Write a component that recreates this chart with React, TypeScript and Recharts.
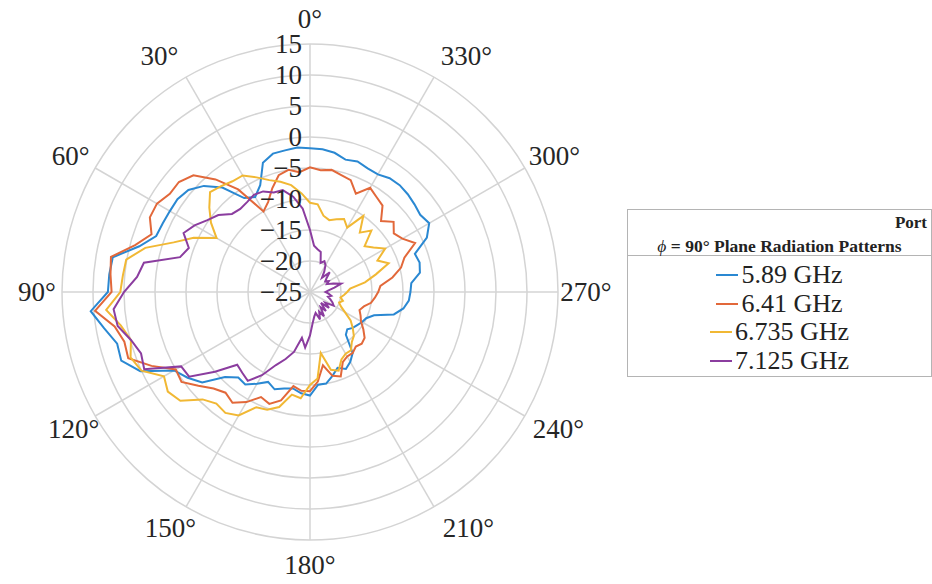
import React from "react";
import {
  RadarChart,
  Radar,
  PolarGrid,
  PolarAngleAxis,
  PolarRadiusAxis,
  Legend,
} from "recharts";

// angle (deg, counter-clockwise from top)
const DEG = [
  0, 5, 10, 15, 20, 25, 30, 35, 40, 45, 50, 55, 60, 65, 70, 75, 80, 85,
  90, 95, 100, 105, 110, 115, 120, 125, 130, 135, 140, 145, 150, 155, 160, 165, 170, 175,
  180, 185, 190, 195, 200, 205, 210, 215, 220, 225, 230, 235, 240, 245, 250, 255, 260, 265,
  270, 275, 280, 285, 290, 295, 300, 305, 310, 315, 320, 325, 330, 335, 340, 345, 350, 355,
];

const GHZ_589 = [
  -1.6, -1.8, -1.9, -2.8, -6.0, -7.3, -6.5, -3.0, -0.8, 0.6, 1.1, 1.1, 1.2, 1.4, 3.5, 7.3, 7.5, 7.6,
  10.5, 8.7, 7.2, 7.4, 5.2, 0.3, -0.9, -2.3, -5.6, -7.0, -6.8, -7.9, -9.0, -8.3, -8.9, -9.2, -8.6, -8.3,
  -10.0, -10.0, -11.0, -12.0, -11.3, -12.0, -13.0, -16.0, -16.5, -16.0, -15.7, -15.3, -15.0, -14.0, -11.0, -9.7, -9.0, -8.8,
  -8.6, -7.0, -6.7, -7.0, -4.2, -2.8, -3.3, -3.0, -2.7, -2.5, -2.6, -3.1, -3.0, -2.6, -2.9, -2.2, -1.9, -1.8,
];

const GHZ_641 = [
  -5.6, -5.0, -5.5, -7.2, -9.0, -10.0, -4.8, -1.3, 1.6, 2.6, 2.6, 3.5, 3.5, 2.2, 4.2, 7.6, 7.3, 7.0,
  9.8, 7.0, 6.0, 6.2, 3.2, 0.0, 0.3, -1.5, -3.0, -3.8, -3.2, -4.5, -6.3, -5.8, -6.9, -9.6, -9.0, -9.0,
  -10.5, -13.0, -11.0, -10.5, -12.5, -13.0, -13.0, -13.5, -13.2, -13.5, -14.5, -15.5, -16.0, -16.5, -16.0, -15.0, -14.5, -14.0,
  -13.6, -11.5, -9.8, -8.8, -6.3, -7.8, -8.5, -7.4, -8.8, -6.8, -6.3, -5.6, -7.5, -5.8, -5.5, -5.0, -5.3, -4.9,
];

const GHZ_6735 = [
  -9.0, -7.5, -6.6, -5.8, -4.6, -3.3, -3.2, -2.7, -2.2, -3.8, -5.5, -7.6, -4.3, -1.6, 2.5, 5.1, 5.3, 5.6,
  8.0, 6.0, 4.9, 5.8, 5.0, 2.2, 3.0, 2.3, -0.5, -1.5, -1.2, -2.0, -4.5, -4.8, -5.8, -8.2, -7.8, -10.0,
  -11.0, -15.0, -12.0, -11.5, -13.0, -13.5, -13.5, -14.5, -15.0, -16.0, -17.0, -18.5, -19.5, -20.0, -19.5, -20.0, -19.5, -19.0,
  -18.5, -16.0, -14.0, -11.5, -13.0, -11.0, -12.5, -13.5, -11.0, -12.5, -10.0, -13.0, -12.0, -12.5, -13.0, -12.5, -10.8, -10.6,
];

const GHZ_7125 = [
  -11.5, -9.4, -8.0, -7.9, -7.1, -6.9, -7.3, -7.5, -7.2, -5.7, -4.8, -3.5, -2.5, -4.2, -3.3, 2.2, 3.0, 5.0,
  6.8, 6.5, 4.9, 4.0, 4.5, -1.0, -1.2, -5.0, -8.4, -8.0, -7.5, -9.5, -12.0, -13.5, -15.0, -17.5, -16.0, -18.0,
  -20.0, -21.0, -21.5, -20.3, -21.5, -20.5, -22.0, -21.0, -22.5, -21.0, -22.0, -20.6, -21.0, -21.5, -22.0, -21.5, -22.0, -22.5,
  -22.0, -21.0, -19.8, -21.0, -22.0, -21.5, -22.0, -21.5, -20.5, -22.0, -21.0, -20.0, -19.5, -20.0, -18.3, -18.0, -17.5, -15.0,
];

const R_TICKS = [-25, -20, -15, -10, -5, 0, 5, 10, 15];
const GRID_ANGLES = [0, 30, 60, 90, 120, 150, 180, 210, 240, 270, 300, 330];

const data = DEG.map((deg, i) => ({
  deg,
  b: GHZ_589[i],
  o: GHZ_641[i],
  y: GHZ_6735[i],
  p: GHZ_7125[i],
}));

const CX = 310;
const CY = 292;
const OUTER = 248;
const LABEL_R = 273;
const SERIF = '"Liberation Serif", "Times New Roman", serif';
const TEXT = "#262626";

// small horizontal nudges so the angle labels sit where matlab put them
const LABEL_NUDGE: Record<number, number> = {
  30: -14, 60: -3, 150: -3, 210: 22, 240: 12, 270: 3, 300: 8, 330: 20,
};

const renderAngleTick = (props: any) => {
  const deg = Number(props.payload.value);
  if (deg % 30 !== 0) return <g />;
  const a = (-(90 + deg) * Math.PI) / 180;
  return (
    <text
      x={CX + LABEL_R * Math.cos(a) + (LABEL_NUDGE[deg] || 0)}
      y={CY + LABEL_R * Math.sin(a)}
      textAnchor="middle"
      dominantBaseline="central"
      fontFamily={SERIF}
      fontSize={27}
      fill={TEXT}
    >
      {deg}°
    </text>
  );
};

const renderRadiusTick = (props: any) => {
  const { x, y, payload } = props;
  const v = Number(payload.value);
  return (
    <text
      x={x - 8}
      y={y}
      textAnchor="end"
      dominantBaseline="central"
      fontFamily={SERIF}
      fontSize={27}
      fill={TEXT}
    >
      {v < 0 ? `\u2212${-v}` : `${v}`}
    </text>
  );
};

const renderLegend = (props: any) => {
  const payload = props.payload || [];
  return (
    <div
      style={{
        boxSizing: "border-box",
        width: 305,
        height: 168,
        border: "1px solid #b4b4b4",
        background: "#fff",
        fontFamily: SERIF,
        color: "#222",
      }}
    >
      <div style={{ position: "relative", height: 45, borderBottom: "1px solid #b4b4b4" }}>
        <div
          style={{ position: "absolute", right: 4, top: 3, fontSize: 17, lineHeight: "20px", fontWeight: "bold" }}
        >
          Port
        </div>
        <div
          style={{
            position: "absolute",
            left: 0,
            right: 0,
            top: 26,
            textAlign: "center",
            fontSize: 17.5,
            lineHeight: "20px",
            fontWeight: "bold",
            whiteSpace: "nowrap",
          }}
        >
          <span style={{ fontWeight: "normal", fontStyle: "italic" }}>ϕ</span> = 90° Plane Radiation Patterns
        </div>
      </div>
      <div style={{ paddingTop: 5 }}>
        {payload.map((entry: any) => (
          <div
            key={entry.value}
            style={{
              display: "flex",
              justifyContent: "center",
              alignItems: "center",
              height: 28.5,
              fontSize: 26,
              lineHeight: "28px",
            }}
          >
            <span
              style={{ display: "inline-block", width: 22, height: 2, background: entry.color, marginRight: 3 }}
            />
            <span>{entry.value}</span>
          </div>
        ))}
      </div>
    </div>
  );
};

export default function App() {
  return (
    <div
      style={{
        position: "absolute",
        left: 0,
        top: 0,
        width: 932,
        height: 584,
        background: "#fff",
        overflow: "hidden",
      }}
    >
      <RadarChart
        width={932}
        height={584}
        data={data}
        cx={CX}
        cy={CY}
        outerRadius={OUTER}
        startAngle={90}
        endAngle={450}
        margin={{ top: 0, right: 0, bottom: 0, left: 0 }}
      >
        <PolarGrid
          gridType="circle"
          polarAngles={GRID_ANGLES}
          stroke="#d4d4d4"
          strokeWidth={1.5}
        />
        <PolarAngleAxis dataKey="deg" tick={renderAngleTick} tickLine={false} axisLine={false} />
        <PolarRadiusAxis
          angle={90}
          type="number"
          domain={[-25, 15]}
          ticks={R_TICKS}
          tickCount={9}
          tick={renderRadiusTick}
          axisLine={false}
          tickLine={false}
        />
        <Radar name="5.89 GHz" dataKey="b" stroke="#2a88d2" strokeWidth={2} fill="none" fillOpacity={0} dot={false} isAnimationActive={false} />
        <Radar name="6.41 GHz" dataKey="o" stroke="#e2683a" strokeWidth={2} fill="none" fillOpacity={0} dot={false} isAnimationActive={false} />
        <Radar name="6.735 GHz" dataKey="y" stroke="#f1b834" strokeWidth={2} fill="none" fillOpacity={0} dot={false} isAnimationActive={false} />
        <Radar name="7.125 GHz" dataKey="p" stroke="#8b3d9f" strokeWidth={2} fill="none" fillOpacity={0} dot={false} isAnimationActive={false} />
        <Legend
          content={renderLegend}
          wrapperStyle={{ position: "absolute", left: 627, top: 209, width: 305, height: 168 }}
        />
      </RadarChart>
    </div>
  );
}
